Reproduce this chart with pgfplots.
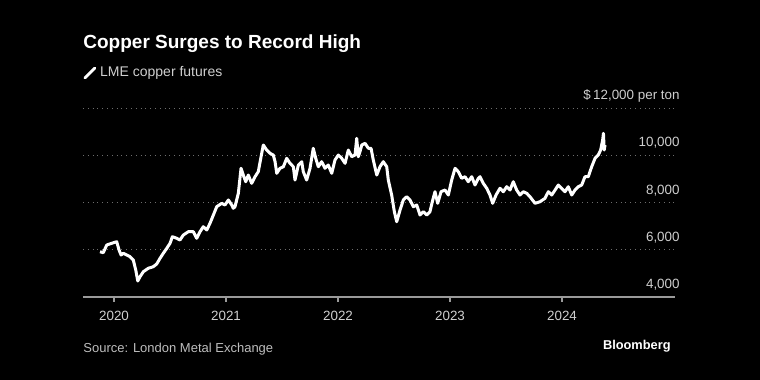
\documentclass[border=0pt]{standalone}
\usepackage{fontspec}
\setmainfont{Liberation Sans}
\usepackage{pgfplots}
\pgfplotsset{compat=1.18}
\definecolor{tickgray}{HTML}{CFCFCF}
\definecolor{gridgray}{HTML}{6E6E6E}
\definecolor{axisgray}{HTML}{9A9A9A}
\definecolor{srcgray}{HTML}{BDBDBD}
\pgfplotstableread{
year value
2019.875 5917
2019.904 5875
2019.935 6201
2019.979 6273
2020.024 6341
2020.045 5989
2020.063 5778
2020.083 5850
2020.113 5778
2020.143 5706
2020.172 5566
2020.194 5143
2020.212 4677
2020.232 4859
2020.262 5071
2020.306 5215
2020.351 5283
2020.381 5397
2020.411 5638
2020.440 5850
2020.471 6061
2020.500 6273
2020.521 6552
2020.560 6485
2020.589 6413
2020.619 6624
2020.663 6764
2020.708 6764
2020.738 6485
2020.768 6764
2020.797 6976
2020.828 6836
2020.857 7120
2020.887 7471
2020.917 7822
2020.962 7966
2020.991 7894
2021.021 8106
2021.051 7894
2021.065 7755
2021.080 7822
2021.110 8389
2021.134 9448
2021.154 9164
2021.176 8880
2021.199 9164
2021.229 8813
2021.259 9092
2021.288 9304
2021.313 9939
2021.333 10434
2021.363 10222
2021.393 10083
2021.422 10011
2021.438 9727
2021.453 9236
2021.482 9448
2021.512 9515
2021.542 9871
2021.571 9659
2021.601 9515
2021.616 8952
2021.646 9587
2021.676 9727
2021.690 9304
2021.720 8952
2021.750 9448
2021.779 10294
2021.801 9871
2021.824 9515
2021.854 9727
2021.884 9448
2021.913 9587
2021.944 9236
2021.973 9799
2022.003 10011
2022.033 9871
2022.063 9659
2022.092 10222
2022.122 9939
2022.152 10011
2022.167 10717
2022.181 9939
2022.196 10150
2022.212 10434
2022.241 10506
2022.271 10294
2022.295 10294
2022.315 9799
2022.346 9164
2022.375 9515
2022.404 9727
2022.435 9515
2022.449 8952
2022.479 8317
2022.503 7611
2022.524 7187
2022.554 7683
2022.583 8106
2022.613 8245
2022.643 8106
2022.672 7822
2022.703 7894
2022.732 7471
2022.762 7611
2022.792 7471
2022.821 7611
2022.842 8034
2022.866 8457
2022.890 7966
2022.920 8457
2022.955 8529
2022.985 8317
2023.015 8952
2023.045 9448
2023.074 9304
2023.104 9024
2023.134 9092
2023.163 8880
2023.194 9092
2023.223 8741
2023.253 9024
2023.268 9092
2023.297 8813
2023.328 8601
2023.357 8317
2023.381 7966
2023.411 8317
2023.446 8601
2023.476 8457
2023.506 8669
2023.536 8529
2023.565 8880
2023.595 8529
2023.625 8317
2023.654 8457
2023.685 8389
2023.714 8245
2023.759 7966
2023.804 8034
2023.848 8178
2023.878 8457
2023.908 8317
2023.938 8529
2023.967 8741
2023.997 8601
2024.027 8457
2024.056 8669
2024.087 8317
2024.116 8529
2024.146 8669
2024.176 8741
2024.205 9092
2024.235 9092
2024.265 9515
2024.295 9871
2024.324 10011
2024.345 10222
2024.363 10645
2024.370 10929
2024.377 10222
2024.384 10434
}\copper
\begin{document}
\begin{tikzpicture}
\path[use as bounding box, fill=black] (0,0) rectangle (380pt,190pt);
\begin{axis}[
  at={(41.5pt,41.5pt)}, anchor=south west,
  scale only axis, width=296pt, height=94.5pt,
  xmin=2019.723, xmax=2025.009,
  ymin=4000, ymax=12000,
  scaled y ticks=false, scaled x ticks=false,
  axis x line*=bottom, axis y line*=right,
  x axis line style={axisgray, line width=0.6pt, -},
  y axis line style={draw=none},
  xtick={2020,2021,2022,2023,2024},
  xticklabels={2020,2021,2022,2023,2024},
  ytick={4000,6000,8000,10000,12000},
  yticklabels={{4,000},{6,000},{8,000},{10,000},{\$\,12,000 per ton}},
  tick align=outside,
  major tick length=2.5pt,
  xtick style={axisgray, line width=0.6pt},
  ytick style={draw=none},
  ymajorgrids,
  grid style={gridgray, dotted, line width=0.5pt},
  ticklabel style={font=\fontsize{6.7}{8}\selectfont, text=tickgray},
  yticklabel style={anchor=base east, inner sep=0pt, yshift=4.2pt},
  xticklabel style={anchor=base, inner sep=0pt, yshift=-9.5pt},
  legend entries={LME copper futures},
  legend image code/.code={\draw[white, line width=1.4pt, line cap=round] (0pt,-2.5pt) -- (5pt,2.5pt);},
  legend style={draw=none, fill=none, at={(0,1)}, anchor=west, yshift=17.5pt,
    inner xsep=0pt, inner ysep=0pt, font=\fontsize{7}{8}\selectfont, text=tickgray,
    legend cell align=left},
]
\addplot[white, line width=1.5pt, line join=round, no marks] table[x=year, y=value] {\copper};
\end{axis}
\node[anchor=base west, inner sep=0pt, font=\bfseries\fontsize{9.5}{11}\selectfont, text=white] at (41.5pt,165.5pt) {Copper Surges to Record High};
\node[anchor=base west, inner sep=0pt, font=\fontsize{6.5}{8}\selectfont, text=srcgray] at (41.5pt,13.5pt) {Source: London Metal Exchange};
\node[anchor=base east, inner sep=0pt, font=\bfseries\fontsize{6.4}{8}\selectfont, text=white] at (335.5pt,15.5pt) {Bloomberg};
\end{tikzpicture}
\end{document}
